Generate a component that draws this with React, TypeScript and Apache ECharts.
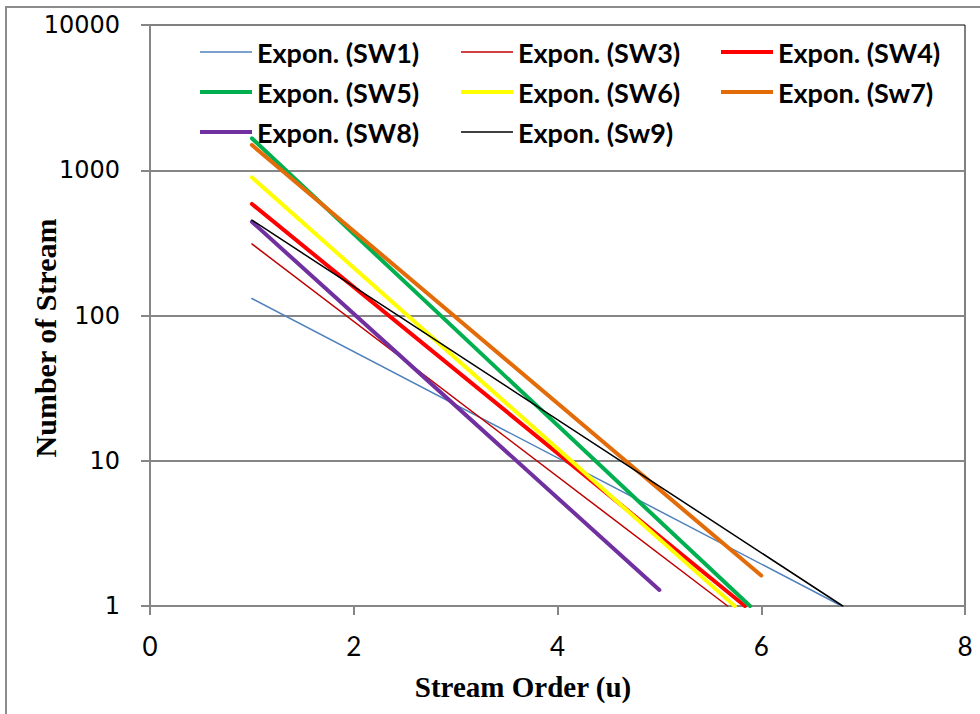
import React, { useEffect, useRef } from "react";
import * as echarts from "echarts";

// Series names (legend order = drawing order)
const seriesNames = [
  "Expon. (SW1)",
  "Expon. (SW3)",
  "Expon. (SW4)",
  "Expon. (SW5)",
  "Expon. (SW6)",
  "Expon. (Sw7)",
  "Expon. (SW8)",
  "Expon. (Sw9)",
];

// Exponential trend lines: [stream order, number of streams] at start and end
const sw1 = [[1, 131], [6.79, 1]];
const sw3 = [[1, 311], [5.67, 1]];
const sw4 = [[1, 586], [5.84, 1]];
const sw5 = [[1, 1660], [5.89, 1]];
const sw6 = [[1, 894], [5.74, 1]];
const sw7 = [[1, 1493], [6, 1.62]];
const sw8 = [[1, 442], [5, 1.29]];
const sw9 = [[1, 454], [6.8, 1]];
const seriesData = [sw1, sw3, sw4, sw5, sw6, sw7, sw8, sw9];

const seriesColors = ["#4F81BD", "#C00000", "#FF0000", "#00B050", "#FFFF00", "#E36C09", "#7030A0", "#000000"];
const seriesWidths = [1.5, 1.5, 4, 4, 4, 4, 4, 1.5];

// Legend columns
const legendCol1 = ["Expon. (SW1)", "Expon. (SW5)", "Expon. (SW8)"];
const legendCol2 = ["Expon. (SW3)", "Expon. (SW6)", "Expon. (Sw9)"];
const legendCol3 = ["Expon. (SW4)", "Expon. (Sw7)"];

const xTitle = "Stream Order (u)";
const yTitle = "Number of Stream";

export default function App() {
  const ref = useRef<HTMLDivElement>(null);

  useEffect(() => {
    document.body.style.margin = "0";
    const chart = echarts.init(ref.current!, null, { renderer: "svg" });

    const legendIcon = (name: string) => {
      const w = seriesWidths[seriesNames.indexOf(name)];
      return { name, icon: `path://M0,0h52v${w}h-52z` };
    };

    const legendBase = {
      orient: "vertical",
      top: 38,
      padding: 0,
      itemWidth: 52,
      itemHeight: 14,
      itemGap: 12,
      symbolKeepAspect: true,
      textStyle: {
        fontFamily: "Lato",
        fontWeight: "bold",
        fontSize: 27,
        lineHeight: 28,
        color: "#000",
      },
    };

    chart.setOption({
      animation: false,
      backgroundColor: "#fff",
      grid: {
        left: 150,
        right: 15,
        top: 25,
        bottom: 108,
        show: true,
        borderColor: "#000",
        borderWidth: 1,
        backgroundColor: "transparent",
      },
      legend: [
        { ...legendBase, left: 200, data: legendCol1.map(legendIcon) },
        { ...legendBase, left: 461, data: legendCol2.map(legendIcon) },
        { ...legendBase, left: 721, data: legendCol3.map(legendIcon) },
      ],
      xAxis: {
        type: "value",
        min: 0,
        max: 8,
        interval: 2,
        axisLine: { show: true, lineStyle: { color: "#868686", width: 2 } },
        axisTick: { show: true, inside: false, length: 9, lineStyle: { color: "#868686", width: 2 } },
        axisLabel: { fontFamily: "Lato", fontSize: 26, color: "#000", margin: 27 },
        splitLine: { show: false },
      },
      yAxis: {
        type: "log",
        logBase: 10,
        min: 1,
        max: 10000,
        axisLine: { show: true, lineStyle: { color: "#868686", width: 2 } },
        axisTick: { show: true, inside: false, length: 9, lineStyle: { color: "#868686", width: 2 } },
        axisLabel: {
          fontFamily: "DejaVu Sans",
          fontSize: 24,
          color: "#000",
          margin: 30,
          formatter: (v: number) => String(Math.round(v)),
        },
        splitLine: { show: true, showMaxLine: false, lineStyle: { color: "#868686", width: 2 } },
      },
      series: seriesNames.map((name, i) => ({
        type: "line",
        name,
        data: seriesData[i],
        symbol: "none",
        showSymbol: false,
        clip: true,
        lineStyle: { color: seriesColors[i], width: seriesWidths[i], cap: "round" },
        itemStyle: { color: seriesColors[i] },
      })),
      graphic: [
        {
          type: "rect",
          shape: { x: 6, y: 7, width: 1000, height: 800 },
          style: { fill: "none", stroke: "#8c8c8c", lineWidth: 2 },
          silent: true,
          z: -10,
        },
        {
          type: "text",
          x: 523,
          y: 701,
          style: {
            text: xTitle,
            fontFamily: "Liberation Serif",
            fontWeight: "bold",
            fontSize: 29,
            fill: "#000",
            textAlign: "center",
            textVerticalAlign: "bottom",
          },
        },
        {
          type: "text",
          x: 45,
          y: 338,
          rotation: Math.PI / 2,
          style: {
            text: yTitle,
            fontFamily: "Liberation Serif",
            fontWeight: "bold",
            fontSize: 30,
            fill: "#000",
            textAlign: "center",
            textVerticalAlign: "middle",
          },
        },
      ],
    });

    return () => chart.dispose();
  }, []);

  return <div ref={ref} style={{ width: 980, height: 714 }} />;
}
